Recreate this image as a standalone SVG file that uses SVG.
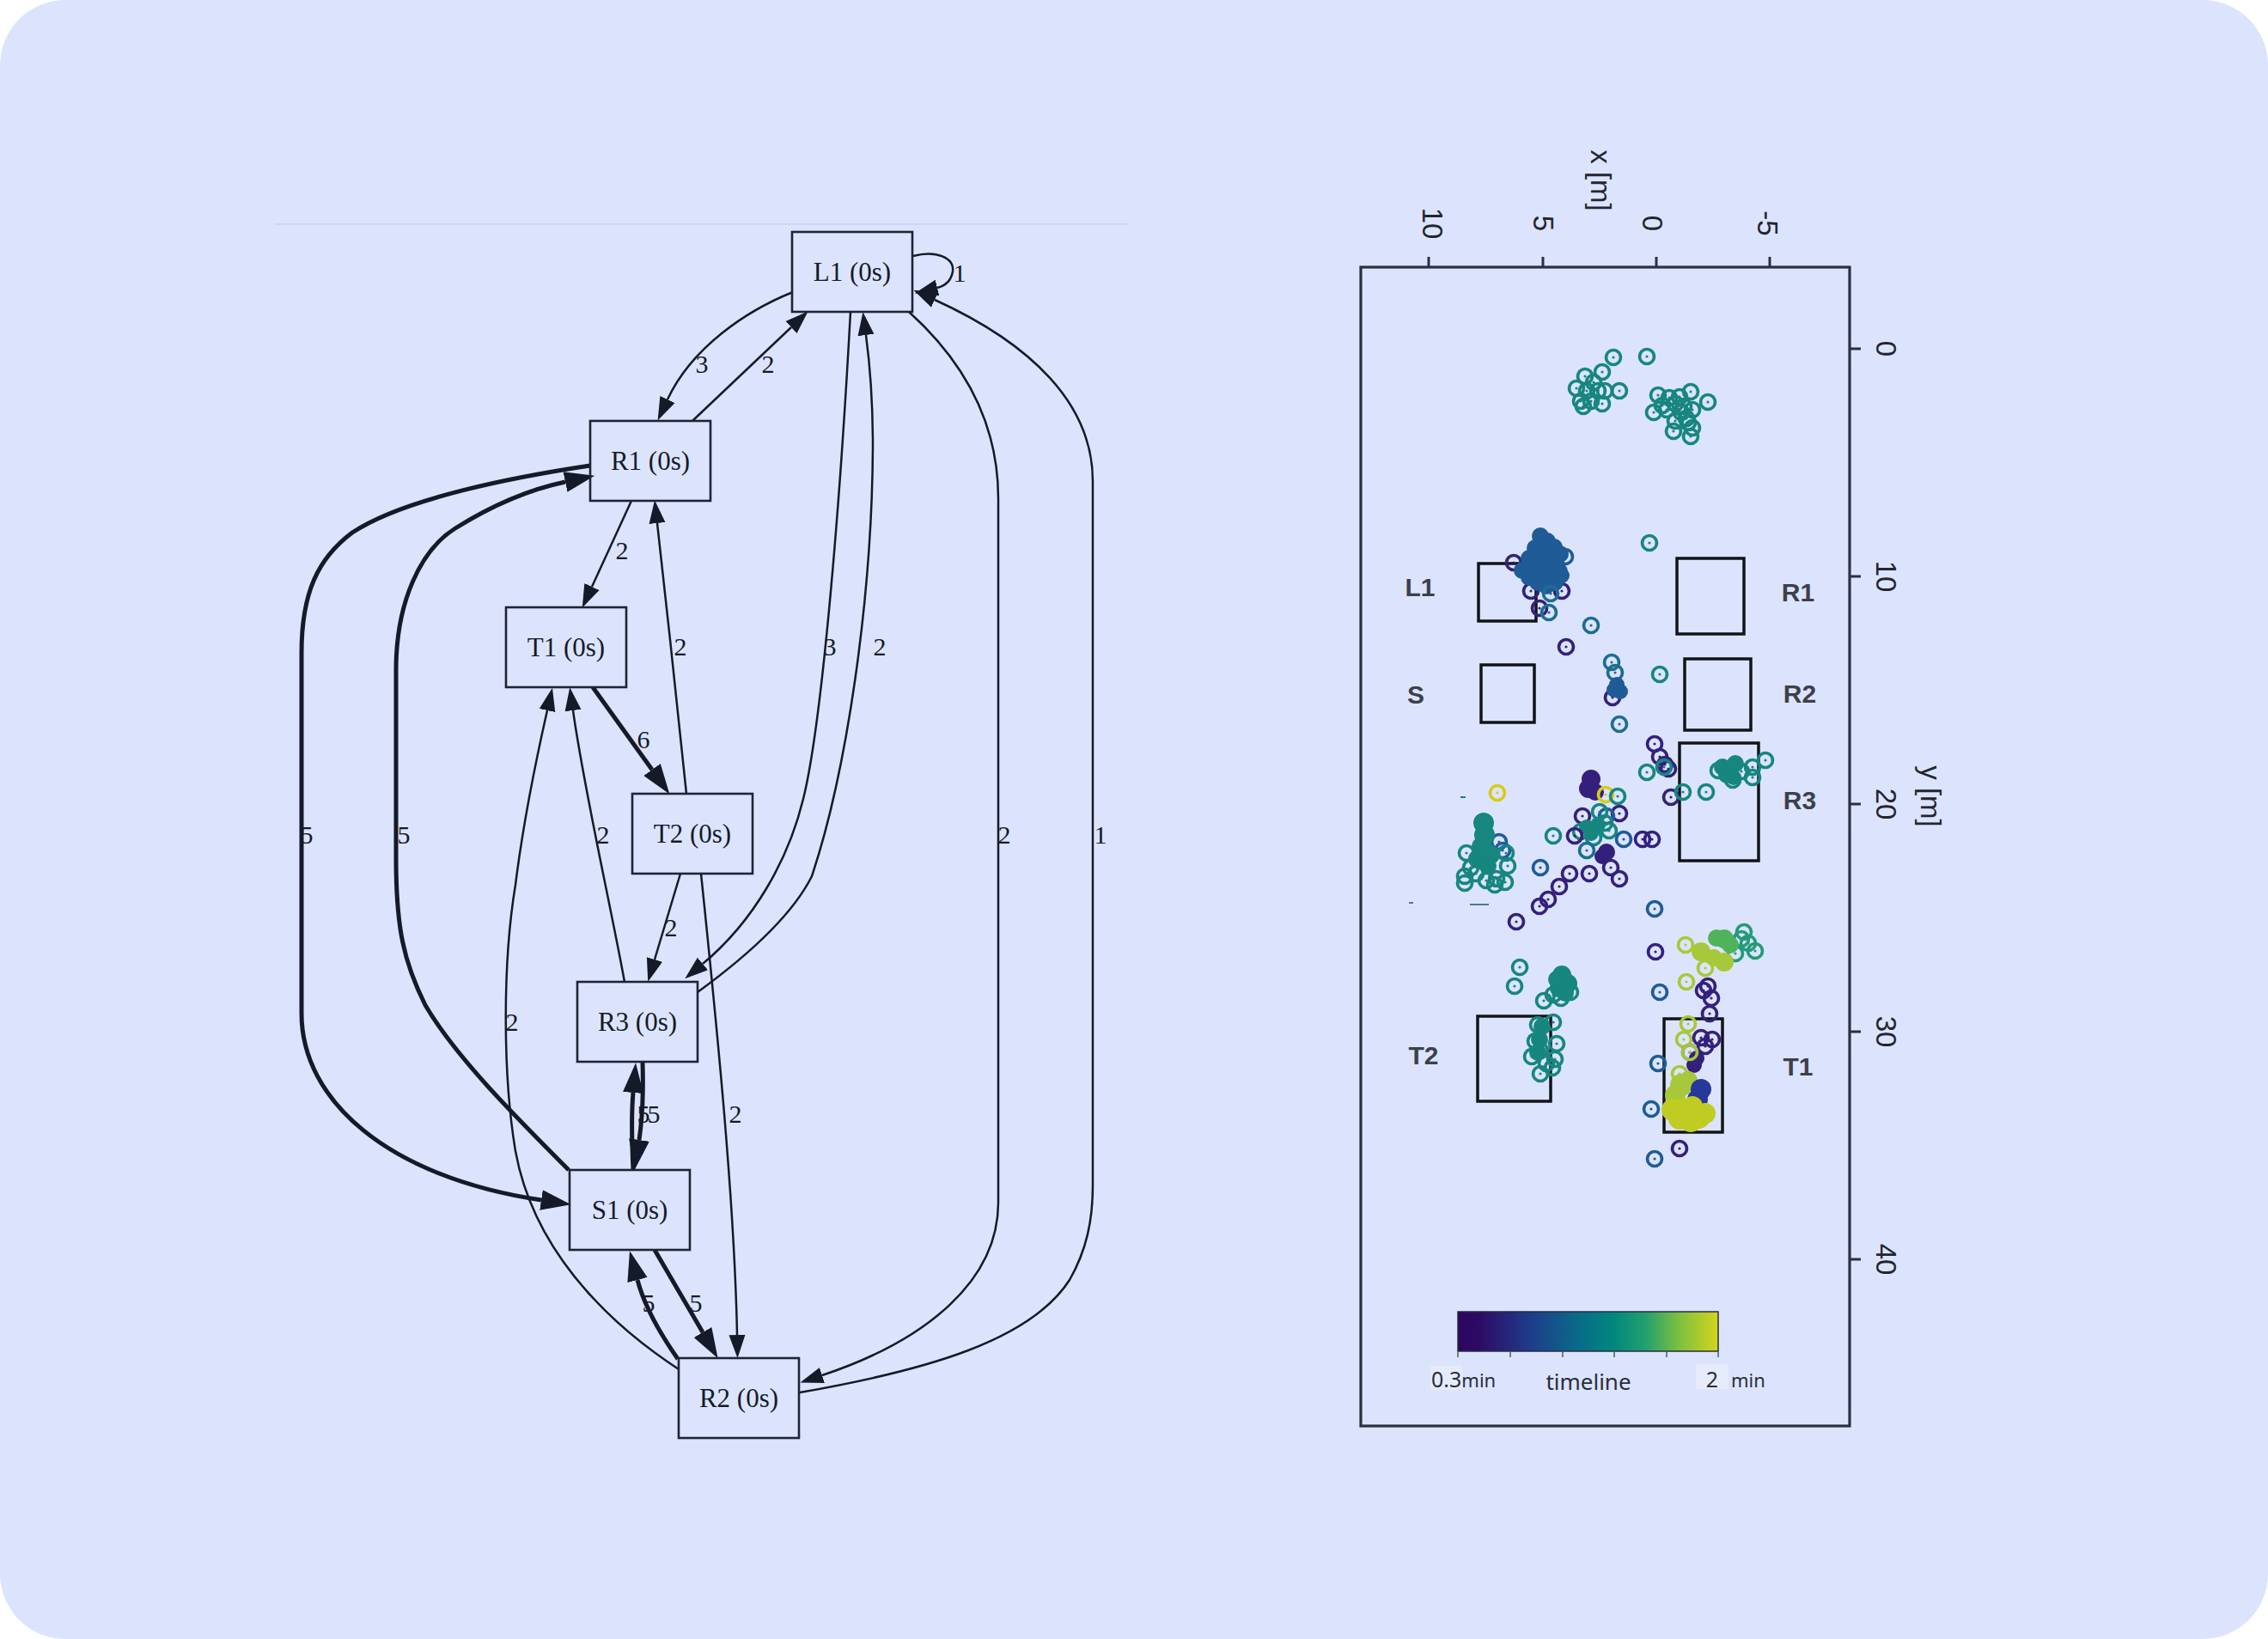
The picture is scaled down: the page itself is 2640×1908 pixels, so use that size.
<svg xmlns="http://www.w3.org/2000/svg" width="2640" height="1908" viewBox="0 0 2640 1908">
<style>
.e{fill:none;stroke:#141a28;stroke-width:2.5}
.eb{fill:none;stroke:#141a28;stroke-width:5}
.nb{fill:none;stroke:#1e2434;stroke-width:2.6}
.nt{font-family:"Liberation Serif",serif;font-size:31px;fill:#141a28;text-anchor:middle}
.el{font-family:"Liberation Serif",serif;font-size:30px;fill:#141a28;text-anchor:middle}
.ax{font-family:"Liberation Sans",sans-serif;font-size:33px;fill:#23262e;text-anchor:middle}
.pl{font-family:"Liberation Sans",sans-serif;font-weight:bold;font-size:30px;fill:#3c404b;text-anchor:middle}
.cb{font-family:"Noto Sans","Open Sans",sans-serif;fill:#2a2e3a}
.zone{fill:none;stroke:#111418;stroke-width:3.5}
.t{color:#17867f}.p{color:#34207c}.b{color:#1f5b97}.bt{color:#1e6d90}.y{color:#d6cb1c}.yg{color:#a8c83a}.gt{color:#239b78}
.ft{fill:#17867f}.fp{fill:#34207c}.fb{fill:#1f5b97}.fg{fill:#4fb35c}.fyg{fill:#a6c83a}.fl{fill:#c0cc22}.fdb{fill:#26389a}
</style>
<defs>
<marker id="ah" viewBox="0 -10 27 20" markerWidth="27" markerHeight="20" refX="0" refY="0" orient="auto" markerUnits="userSpaceOnUse"><path d="M0,-9.5 L27,0 L0,9.5 Z" fill="#141a28"/></marker>
<marker id="ahb" viewBox="0 -13 35 26" markerWidth="35" markerHeight="26" refX="0" refY="0" orient="auto" markerUnits="userSpaceOnUse"><path d="M0,-12 L35,0 L0,12 Z" fill="#141a28"/></marker>
<g id="m"><circle r="8.5" fill="none" stroke="currentColor" stroke-width="3.7"/><circle r="1.6" fill="currentColor"/></g>
<linearGradient id="vir" x1="0" y1="0" x2="1" y2="0">
<stop offset="0" stop-color="#2c0762"/><stop offset="0.08" stop-color="#2e0a64"/><stop offset="0.27" stop-color="#1f3a8a"/><stop offset="0.46" stop-color="#0a6a8a"/><stop offset="0.59" stop-color="#00857f"/><stop offset="0.72" stop-color="#22a06f"/><stop offset="0.85" stop-color="#7cc040"/><stop offset="1" stop-color="#d6d41c"/>
</linearGradient>
</defs>
<rect x="0" y="0" width="2640" height="1908" fill="#ffffff"/>
<rect x="0" y="0" width="2640" height="1908" rx="76" ry="76" fill="#dce4fd"/>
<line x1="320" y1="261" x2="1313" y2="261" stroke="#cfd6f0" stroke-width="2"/>

<g id="connectors">
<path class="e" marker-end="url(#ah)" d="M1063,298 C1090,291 1111,300 1109,316 C1107,328 1099,333 1091,335"/>
<path class="e" marker-end="url(#ah)" d="M923,340 C868,362 805,405 777,465"/>
<path class="e" marker-end="url(#ah)" d="M806,490 L921,381"/>
<path class="e" marker-end="url(#ah)" d="M735,583 L689,683"/>
<path class="e" marker-end="url(#ah)" d="M799,924 C793,860 775,700 765,609"/>
<path class="e" marker-end="url(#ah)" d="M990,363 C976,620 955,850 935,930 C918,1000 878,1072 818,1122"/>
<path class="e" marker-end="url(#ah)" d="M812,1155 C860,1120 920,1070 945,1020 C985,900 1015,700 1016,520 C1016,460 1012,420 1008,390"/>
<path class="eb" marker-end="url(#ahb)" d="M690,800 L759,896"/>
<path class="e" marker-end="url(#ah)" d="M727,1143 C710,1050 680,920 667,827"/>
<path class="e" marker-end="url(#ah)" d="M792,1017 L762,1117"/>
<path class="e" marker-end="url(#ah)" d="M816,1017 C835,1200 855,1400 858,1554"/>
<path class="e" marker-end="url(#ah)" d="M790,1594 C700,1535 620,1450 600,1340 C585,1250 585,1120 600,1030 C610,950 625,880 637,827"/>
<path class="eb" marker-end="url(#ahb)" d="M662,1362 C600,1300 530,1230 495,1170 C470,1120 461,1080 461,1000 L461,780 C461,700 490,640 530,615 C570,590 615,570 658,561"/>
<path class="eb" marker-end="url(#ahb)" d="M687,542 C600,555 470,580 410,620 C370,650 351,690 351,760 L351,1180 C351,1280 450,1370 630,1397"/>
<path class="eb" marker-end="url(#ahb)" d="M737,1362 C735,1320 735,1295 737,1272"/>
<path class="eb" marker-end="url(#ahb)" d="M748,1237 C749,1270 748,1300 744,1327"/>
<path class="eb" marker-end="url(#ahb)" d="M762,1455 L818,1551"/>
<path class="eb" marker-end="url(#ahb)" d="M789,1582 C768,1552 750,1520 742,1490"/>
<path class="e" marker-end="url(#ah)" d="M1058,363 C1110,410 1162,480 1162,580 L1162,1400 C1162,1490 1080,1560 957,1601"/>
<path class="e" marker-end="url(#ah)" d="M931,1621 C1080,1595 1200,1560 1245,1490 C1265,1455 1272,1420 1272,1380 L1272,560 C1272,470 1200,400 1088,349"/>
<text class="el" x="1117" y="328">1</text>
<text class="el" x="817" y="434">3</text>
<text class="el" x="894" y="434">2</text>
<text class="el" x="724" y="651">2</text>
<text class="el" x="792" y="763">2</text>
<text class="el" x="966" y="763">3</text>
<text class="el" x="1024" y="763">2</text>
<text class="el" x="749" y="871">6</text>
<text class="el" x="702" y="982">2</text>
<text class="el" x="357" y="982">5</text>
<text class="el" x="470" y="982">5</text>
<text class="el" x="1169" y="982">2</text>
<text class="el" x="1281" y="982">1</text>
<text class="el" x="781" y="1090">2</text>
<text class="el" x="596" y="1200">2</text>
<text class="el" x="749" y="1307">5</text>
<text class="el" x="761" y="1307">5</text>
<text class="el" x="856" y="1307">2</text>
<text class="el" x="755" y="1527">5</text>
<text class="el" x="810" y="1527">5</text>
</g>

<g id="node-L1"><rect class="nb" x="922" y="270" width="140" height="93"/><text class="nt" x="992" y="327">L1 (0s)</text></g>
<g id="node-R1"><rect class="nb" x="687" y="490" width="140" height="93"/><text class="nt" x="757" y="547">R1 (0s)</text></g>
<g id="node-T1"><rect class="nb" x="589" y="707" width="140" height="93"/><text class="nt" x="659" y="764">T1 (0s)</text></g>
<g id="node-T2"><rect class="nb" x="736" y="924" width="140" height="93"/><text class="nt" x="806" y="981">T2 (0s)</text></g>
<g id="node-R3"><rect class="nb" x="672" y="1143" width="140" height="93"/><text class="nt" x="742" y="1200">R3 (0s)</text></g>
<g id="node-S1"><rect class="nb" x="663" y="1362" width="140" height="93"/><text class="nt" x="733" y="1419">S1 (0s)</text></g>
<g id="node-R2"><rect class="nb" x="790" y="1581" width="140" height="93"/><text class="nt" x="860" y="1638">R2 (0s)</text></g>

<g id="plot">
<rect x="1584" y="311" width="569" height="1349" fill="none" stroke="#2b2f40" stroke-width="3.2"/>
<g stroke="#2b2f40" stroke-width="3">
<line x1="1663" y1="299" x2="1663" y2="311"/><line x1="1796" y1="299" x2="1796" y2="311"/><line x1="1928" y1="299" x2="1928" y2="311"/><line x1="2060" y1="299" x2="2060" y2="311"/>
<line x1="2153" y1="406" x2="2166" y2="406"/><line x1="2153" y1="671" x2="2166" y2="671"/><line x1="2153" y1="936" x2="2166" y2="936"/><line x1="2153" y1="1201" x2="2166" y2="1201"/><line x1="2153" y1="1466" x2="2166" y2="1466"/>
</g>
<text class="ax" transform="translate(1668,260) rotate(90)" dy="0.35em">10</text>
<text class="ax" transform="translate(1797,260) rotate(90)" dy="0.35em">5</text>
<text class="ax" transform="translate(1924,260) rotate(90)" dy="0.35em">0</text>
<text class="ax" transform="translate(2058,260) rotate(90)" dy="0.35em">-5</text>
<text class="ax" transform="translate(1864,210) rotate(90)" dy="0.35em">x [m]</text>
<text class="ax" transform="translate(2196,406) rotate(90)" dy="0.35em">0</text>
<text class="ax" transform="translate(2196,671) rotate(90)" dy="0.35em">10</text>
<text class="ax" transform="translate(2196,936) rotate(90)" dy="0.35em">20</text>
<text class="ax" transform="translate(2196,1201) rotate(90)" dy="0.35em">30</text>
<text class="ax" transform="translate(2196,1466) rotate(90)" dy="0.35em">40</text>
<text class="ax" transform="translate(2248,927) rotate(90)" dy="0.35em">y [m]</text>

<rect class="zone" x="1721" y="656" width="67" height="67"/>
<rect class="zone" x="1724" y="774" width="62" height="67"/>
<rect class="zone" x="1952" y="650" width="78" height="88"/>
<rect class="zone" x="1961" y="767" width="77" height="83"/>
<rect class="zone" x="1955" y="865" width="92" height="137"/>
<rect class="zone" x="1720" y="1183" width="85" height="99"/>
<rect class="zone" x="1937" y="1186" width="68" height="132"/>
<text class="pl" x="1653" y="694">L1</text>
<text class="pl" x="1648" y="819">S</text>
<text class="pl" x="1657" y="1239">T2</text>
<text class="pl" x="2093" y="700">R1</text>
<text class="pl" x="2095" y="818">R2</text>
<text class="pl" x="2095" y="942">R3</text>
<text class="pl" x="2093" y="1252">T1</text>

<g stroke-width="2">
<line x1="1700" y1="928" x2="1706" y2="928" stroke="#17867f"/>
<line x1="1711" y1="1053" x2="1733" y2="1053" stroke="#4a7a8a"/>
<line x1="1640" y1="1051" x2="1645" y2="1051" stroke="#4a7a8a"/>
</g>

<g id="scatter">
<use href="#m" class="t" x="1878" y="416"/><use href="#m" class="t" x="1917" y="415"/><use href="#m" class="t" x="1845" y="438"/><use href="#m" class="t" x="1865" y="433"/><use href="#m" class="t" x="1885" y="455"/><use href="#m" class="t" x="1835" y="452"/><use href="#m" class="t" x="1847" y="455"/><use href="#m" class="t" x="1860" y="455"/><use href="#m" class="t" x="1868" y="455"/><use href="#m" class="t" x="1840" y="467"/><use href="#m" class="t" x="1852" y="467"/><use href="#m" class="t" x="1865" y="470"/><use href="#m" class="t" x="1843" y="473"/><use href="#m" class="t" x="1855" y="445"/>
<use href="#m" class="t" x="1968" y="456"/><use href="#m" class="t" x="1988" y="468"/><use href="#m" class="t" x="1930" y="460"/><use href="#m" class="t" x="1925" y="480"/><use href="#m" class="t" x="1940" y="477"/><use href="#m" class="t" x="1950" y="470"/><use href="#m" class="t" x="1960" y="473"/><use href="#m" class="t" x="1970" y="477"/><use href="#m" class="t" x="1950" y="490"/><use href="#m" class="t" x="1963" y="487"/><use href="#m" class="t" x="1948" y="502"/><use href="#m" class="t" x="1970" y="498"/><use href="#m" class="t" x="1968" y="508"/><use href="#m" class="t" x="1957" y="480"/><use href="#m" class="t" x="1943" y="463"/><use href="#m" class="t" x="1955" y="462"/><use href="#m" class="t" x="1965" y="492"/><use href="#m" class="t" x="1935" y="472"/>
<use href="#m" class="t" x="1920" y="632"/>

<use href="#m" class="p" x="1762" y="655"/><use href="#m" class="p" x="1782" y="688"/><use href="#m" class="p" x="1818" y="688"/>
<g class="fb">
<circle cx="1793" cy="624" r="10"/><circle cx="1801" cy="630" r="10"/><circle cx="1809" cy="637" r="10"/><circle cx="1816" cy="645" r="10"/><circle cx="1787" cy="638" r="10"/><circle cx="1795" cy="646" r="10"/><circle cx="1803" cy="652" r="10"/><circle cx="1812" cy="658" r="10"/><circle cx="1780" cy="650" r="10"/><circle cx="1788" cy="660" r="10"/><circle cx="1797" cy="666" r="10"/><circle cx="1806" cy="672" r="10"/><circle cx="1815" cy="665" r="10"/><circle cx="1772" cy="664" r="10"/><circle cx="1780" cy="672" r="10"/><circle cx="1790" cy="678" r="10"/><circle cx="1800" cy="682" r="10"/><circle cx="1810" cy="678" r="10"/><circle cx="1818" cy="670" r="9"/>
</g>
<use href="#m" class="b" x="1822" y="648"/><use href="#m" class="bt" x="1805" y="691"/>
<use href="#m" class="p" x="1792" y="708"/><use href="#m" class="bt" x="1803" y="713"/><use href="#m" class="bt" x="1852" y="728"/><use href="#m" class="p" x="1823" y="753"/>
<use href="#m" class="bt" x="1876" y="771"/><use href="#m" class="bt" x="1880" y="783"/>
<use href="#m" class="p" x="1877" y="812"/>
<g class="fb"><circle cx="1882" cy="797" r="9"/><circle cx="1886" cy="805" r="9"/><circle cx="1879" cy="803" r="9"/></g>
<use href="#m" class="t" x="1932" y="785"/><use href="#m" class="bt" x="1885" y="843"/>

<use href="#m" class="p" x="1926" y="866"/><use href="#m" class="p" x="1932" y="881"/><use href="#m" class="p" x="1942" y="895"/><use href="#m" class="p" x="1938" y="890"/><use href="#m" class="p" x="1945" y="928"/>
<use href="#m" class="t" x="1917" y="899"/><use href="#m" class="t" x="1937" y="893"/><use href="#m" class="t" x="1959" y="922"/><use href="#m" class="t" x="1986" y="922"/>
<g class="ft"><circle cx="2005" cy="893" r="10"/><circle cx="2013" cy="895" r="10"/><circle cx="2020" cy="889" r="10"/><circle cx="2010" cy="902" r="10"/><circle cx="2018" cy="905" r="9"/></g>
<use href="#m" class="t" x="2040" y="893"/><use href="#m" class="t" x="2055" y="885"/><use href="#m" class="t" x="2040" y="905"/><use href="#m" class="t" x="2027" y="898"/><use href="#m" class="t" x="2017" y="908"/><use href="#m" class="t" x="2000" y="897"/>
<use href="#m" class="y" x="1743" y="923"/>
<use href="#m" class="b" x="1745" y="980"/><use href="#m" class="b" x="1749" y="990"/>
<g class="ft"><circle cx="1727" cy="958" r="12"/><circle cx="1728" cy="972" r="12"/><circle cx="1725" cy="986" r="12"/><circle cx="1735" cy="995" r="11"/><circle cx="1720" cy="1000" r="11"/><circle cx="1732" cy="1008" r="10"/></g>
<use href="#m" class="t" x="1707" y="993"/><use href="#m" class="t" x="1705" y="1020"/><use href="#m" class="t" x="1705" y="1028"/><use href="#m" class="t" x="1718" y="1017"/><use href="#m" class="t" x="1742" y="1023"/><use href="#m" class="t" x="1752" y="1027"/><use href="#m" class="t" x="1753" y="993"/><use href="#m" class="t" x="1755" y="1008"/><use href="#m" class="t" x="1740" y="1030"/><use href="#m" class="t" x="1712" y="1010"/><use href="#m" class="t" x="1730" y="1025"/>

<g class="fp"><circle cx="1852" cy="907" r="11"/><circle cx="1849" cy="918" r="11"/><circle cx="1857" cy="922" r="10"/></g>
<use href="#m" class="p" x="1842" y="950"/><use href="#m" class="p" x="1885" y="947"/><use href="#m" class="b" x="1870" y="950"/>
<g class="ft"><circle cx="1847" cy="963" r="9"/><circle cx="1860" cy="960" r="9"/><circle cx="1852" cy="970" r="9"/></g>
<use href="#m" class="t" x="1868" y="958"/><use href="#m" class="t" x="1873" y="967"/><use href="#m" class="t" x="1840" y="968"/><use href="#m" class="t" x="1855" y="975"/><use href="#m" class="t" x="1862" y="945"/>
<use href="#m" class="y" x="1869" y="925"/><use href="#m" class="t" x="1883" y="927"/>
<use href="#m" class="p" x="1833" y="973"/><use href="#m" class="b" x="1890" y="977"/><use href="#m" class="p" x="1912" y="977"/><use href="#m" class="p" x="1923" y="977"/>
<use href="#m" class="t" x="1808" y="973"/><use href="#m" class="bt" x="1847" y="990"/>
<g class="fp"><circle cx="1870" cy="992" r="10"/><circle cx="1865" cy="997" r="9"/></g>
<use href="#m" class="p" x="1875" y="1010"/><use href="#m" class="p" x="1885" y="1023"/><use href="#m" class="p" x="1850" y="1017"/><use href="#m" class="b" x="1793" y="1010"/>
<use href="#m" class="p" x="1827" y="1017"/><use href="#m" class="p" x="1815" y="1032"/><use href="#m" class="p" x="1802" y="1047"/><use href="#m" class="p" x="1792" y="1055"/><use href="#m" class="p" x="1765" y="1073"/>
<use href="#m" class="b" x="1926" y="1058"/><use href="#m" class="p" x="1927" y="1108"/>

<use href="#m" class="gt" x="2027" y="1093"/><use href="#m" class="gt" x="2043" y="1107"/><use href="#m" class="gt" x="2020" y="1110"/><use href="#m" class="gt" x="2035" y="1098"/><use href="#m" class="gt" x="2030" y="1085"/>
<g class="fg"><circle cx="2007" cy="1093" r="11"/><circle cx="1998" cy="1092" r="10"/><circle cx="2014" cy="1100" r="10"/></g>
<g class="fyg"><circle cx="1980" cy="1108" r="11"/><circle cx="2007" cy="1120" r="11"/><circle cx="1995" cy="1115" r="10"/></g>
<use href="#m" class="yg" x="1962" y="1100"/><use href="#m" class="yg" x="1985" y="1127"/><use href="#m" class="yg" x="1963" y="1143"/>
<use href="#m" class="b" x="1932" y="1155"/><use href="#m" class="p" x="1983" y="1153"/><use href="#m" class="p" x="1992" y="1162"/><use href="#m" class="p" x="1990" y="1180"/><use href="#m" class="p" x="1988" y="1148"/>
<use href="#m" class="yg" x="1965" y="1192"/><use href="#m" class="yg" x="1960" y="1210"/>
<use href="#m" class="p" x="1980" y="1208"/><use href="#m" class="p" x="1993" y="1210"/><use href="#m" class="p" x="1985" y="1218"/>
<g class="fp"><circle cx="1975" cy="1232" r="9"/><circle cx="1972" cy="1240" r="9"/></g>
<use href="#m" class="p" x="1967" y="1225"/><use href="#m" class="yg" x="1967" y="1225"/>
<use href="#m" class="b" x="1930" y="1238"/>
<use href="#m" class="yg" x="1955" y="1250"/>
<g class="fyg"><circle cx="1957" cy="1263" r="13"/><circle cx="1965" cy="1258" r="11"/><circle cx="1950" cy="1275" r="12"/></g>
<g class="fdb"><circle cx="1980" cy="1268" r="12"/><circle cx="1976" cy="1280" r="12"/></g>
<g class="fl"><circle cx="1960" cy="1293" r="14"/><circle cx="1977" cy="1300" r="14"/><circle cx="1947" cy="1292" r="13"/><circle cx="1970" cy="1288" r="12"/><circle cx="1985" cy="1296" r="12"/><circle cx="1955" cy="1302" r="13"/><circle cx="1968" cy="1305" r="13"/></g>
<use href="#m" class="b" x="1922" y="1291"/><use href="#m" class="p" x="1955" y="1337"/><use href="#m" class="b" x="1926" y="1349"/>

<use href="#m" class="t" x="1769" y="1126"/><use href="#m" class="t" x="1763" y="1148"/>
<g class="ft"><circle cx="1818" cy="1135" r="11"/><circle cx="1825" cy="1145" r="11"/><circle cx="1815" cy="1150" r="11"/><circle cx="1822" cy="1156" r="10"/><circle cx="1812" cy="1140" r="10"/></g>
<use href="#m" class="t" x="1817" y="1162"/><use href="#m" class="t" x="1828" y="1155"/><use href="#m" class="t" x="1797" y="1165"/><use href="#m" class="t" x="1808" y="1158"/>
<g class="ft"><circle cx="1795" cy="1195" r="10"/><circle cx="1792" cy="1210" r="10"/><circle cx="1790" cy="1225" r="10"/></g>
<use href="#m" class="t" x="1790" y="1193"/><use href="#m" class="t" x="1808" y="1190"/><use href="#m" class="t" x="1787" y="1212"/><use href="#m" class="t" x="1812" y="1215"/><use href="#m" class="t" x="1783" y="1230"/><use href="#m" class="t" x="1810" y="1233"/><use href="#m" class="t" x="1793" y="1250"/><use href="#m" class="t" x="1807" y="1243"/><use href="#m" class="t" x="1793" y="1223"/><use href="#m" class="t" x="1800" y="1238"/>
</g>

<g id="colorbar">
<rect x="1697" y="1527" width="303" height="46" fill="url(#vir)" stroke="#2a2e3a" stroke-width="1.5"/>
<g stroke="#555a66" stroke-width="1.5">
<line x1="1697" y1="1573" x2="1697" y2="1580"/><line x1="1758" y1="1573" x2="1758" y2="1580"/><line x1="1819" y1="1573" x2="1819" y2="1580"/><line x1="1879" y1="1573" x2="1879" y2="1580"/><line x1="1940" y1="1573" x2="1940" y2="1580"/><line x1="2000" y1="1573" x2="2000" y2="1580"/>
</g>
<rect x="1665" y="1590" width="37" height="28" fill="#e6ebfc"/>
<rect x="1974" y="1588" width="38" height="29" fill="#e6ebfc"/>
<text class="cb" x="1666" y="1615" font-size="25">0.3<tspan font-size="22">min</tspan></text>
<text class="cb" x="1849" y="1618" font-size="26" text-anchor="middle">timeline</text>
<text class="cb" x="1993" y="1615" font-size="25" text-anchor="middle">2</text>
<text class="cb" x="2015" y="1615" font-size="22">min</text>
</g>
</g>
</svg>
